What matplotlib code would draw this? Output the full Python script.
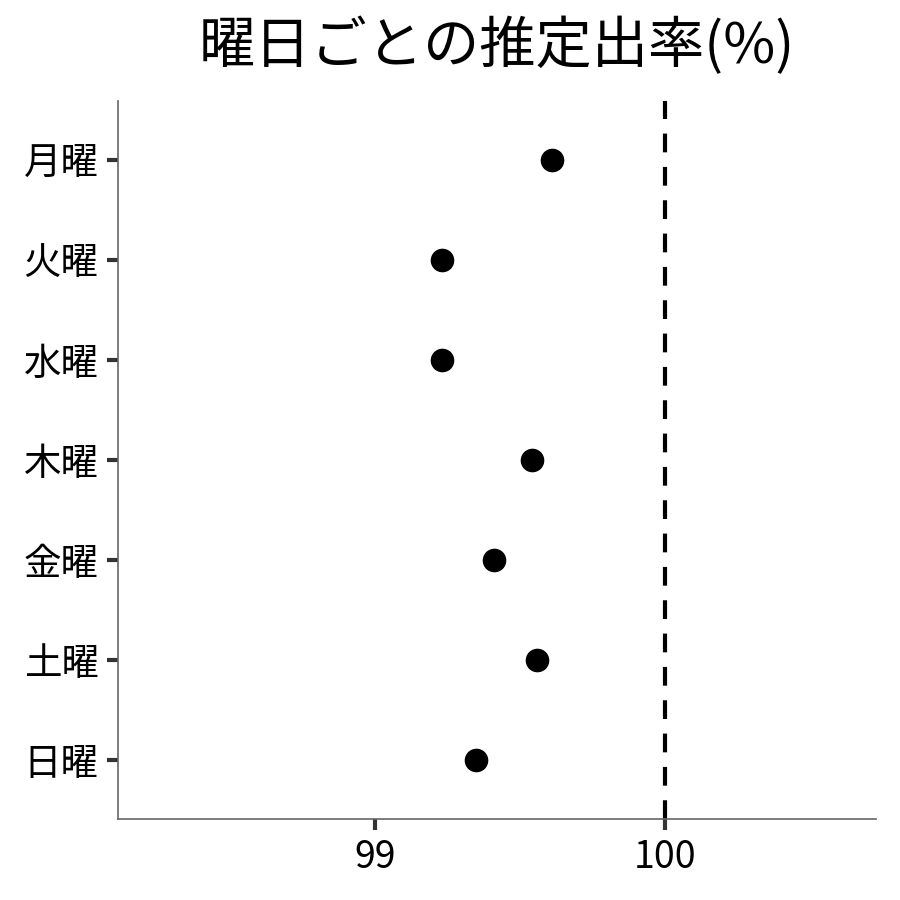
import matplotlib
matplotlib.use("Agg")
import matplotlib.pyplot as plt

plt.rcParams['font.family'] = ['Noto Sans CJK JP', 'DejaVu Sans']

days = ['月曜', '火曜', '水曜', '木曜', '金曜', '土曜', '日曜']
rates = [99.61, 99.23, 99.23, 99.54, 99.41, 99.56, 99.35]
ref_line = 100
xticks = [99, 100]

fig = plt.figure(figsize=(9, 9), dpi=100)
ax = fig.add_axes([118/900, 1-819/900, (876-118)/900, (819-101)/900])

ypos = list(range(len(days)))
ax.plot(rates, ypos, 'o', color='black', markersize=16, linestyle='none', zorder=3)
ax.axvline(ref_line, color='black', linewidth=3, linestyle=(0, (4.5, 3.5)))

ax.set_xlim(98.114, 100.728)
ax.set_ylim(len(days) - 1 + 0.59, -0.59)
ax.set_yticks(ypos)
ax.set_yticklabels(days)
ax.set_xticks(xticks)
ax.set_xticklabels([str(x) for x in xticks])

for s in ['top', 'right']:
    ax.spines[s].set_visible(False)
for s in ['left', 'bottom']:
    ax.spines[s].set_color('#666666')
    ax.spines[s].set_linewidth(1.2)

ax.tick_params(axis='both', length=8, width=3, color='#333333', labelsize=27, pad=6)
ax.set_title('曜日ごとの推定出率(%)', fontsize=40.5, pad=27)

fig.savefig('out.png', dpi=100)
